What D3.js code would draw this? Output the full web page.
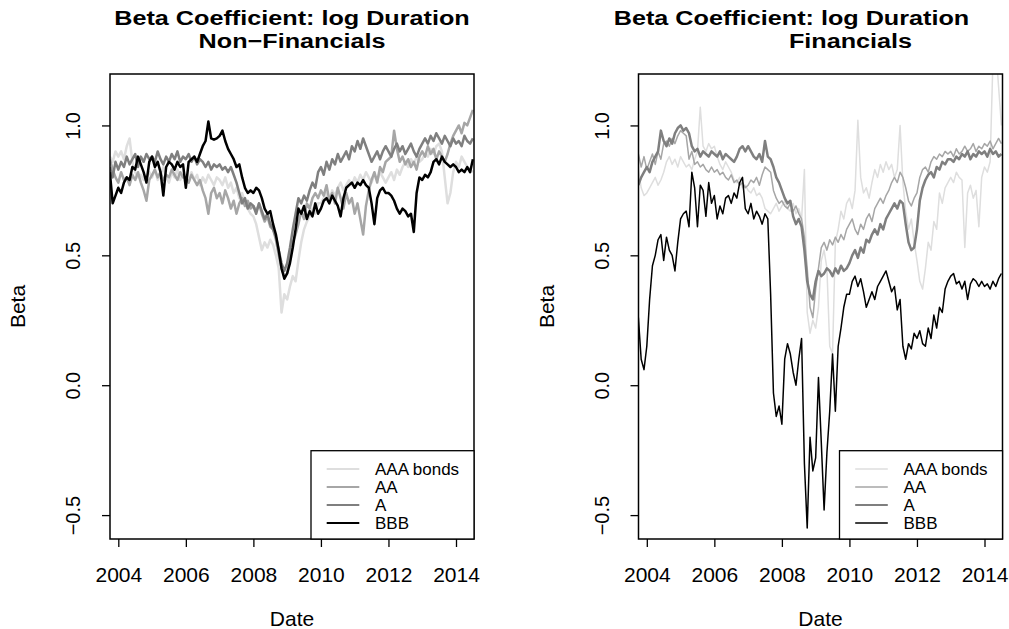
<!DOCTYPE html>
<html>
<head>
<meta charset="utf-8">
<script src="https://cdn.jsdelivr.net/npm/d3@7"></script>
<style>
  body { margin: 0; background: #fff; }
  text { font-family: "Liberation Sans", Arial, sans-serif; fill: #000; }
</style>
</head>
<body>
<script>
let width = 1009;
let height = 629;

// monthly values, first one is Oct 2003
let startYear = 2003.75;
let seriesNames = ["AAA bonds", "AA", "A", "BBB"];
let seriesColors = ["#dedede", "#a6a6a6", "#7f7f7f", "#000000"];
let xTicks = [2004, 2006, 2008, 2010, 2012, 2014];
let yTicks = [-0.5, 0, 0.5, 1.0];
let titleLine1 = "Beta Coefficient: log Duration";

// Non-Financials
let nfAAA = [0.88,0.86,0.90,
  0.88,0.90,0.87,0.92,0.95,0.86,0.82,0.80,0.81,0.79,0.80,0.82,
  0.80,0.83,0.79,0.81,0.84,0.80,0.78,0.82,0.80,0.83,0.79,0.81,
  0.80,0.78,0.82,0.79,0.81,0.77,0.80,0.78,0.81,0.79,0.77,0.80,
  0.79,0.77,0.80,0.76,0.78,0.74,0.76,0.72,0.74,0.70,0.68,0.66,
  0.65,0.62,0.57,0.52,0.55,0.53,0.56,0.54,0.50,0.45,0.28,0.35,
  0.33,0.38,0.42,0.40,0.48,0.55,0.60,0.63,0.65,0.68,0.66,0.70,
  0.70,0.72,0.74,0.71,0.75,0.73,0.76,0.78,0.75,0.77,0.79,0.77,
  0.80,0.78,0.81,0.79,0.82,0.80,0.78,0.81,0.79,0.82,0.80,0.78,
  0.80,0.82,0.79,0.83,0.81,0.84,0.86,0.84,0.87,0.85,0.88,0.86,
  0.87,0.89,0.88,0.91,0.89,0.92,0.93,0.90,0.80,0.70,0.74,0.82,
  0.86,0.84,0.88,0.86,0.84,0.83,0.82];
let nfAA = [0.87,0.83,0.80,
  0.78,0.82,0.79,0.80,0.77,0.81,0.79,0.82,0.78,0.75,0.71,0.79,
  0.81,0.83,0.80,0.82,0.79,0.81,0.80,0.83,0.81,0.79,0.82,0.80,
  0.80,0.78,0.81,0.79,0.77,0.79,0.75,0.72,0.66,0.74,0.76,0.72,
  0.74,0.70,0.75,0.72,0.68,0.71,0.66,0.70,0.72,0.69,0.71,0.68,
  0.69,0.67,0.70,0.66,0.63,0.65,0.61,0.60,0.56,0.50,0.45,0.42,
  0.43,0.50,0.55,0.58,0.62,0.67,0.64,0.70,0.68,0.72,0.74,0.72,
  0.75,0.73,0.77,0.71,0.74,0.70,0.76,0.72,0.68,0.74,0.70,0.72,
  0.66,0.70,0.64,0.58,0.69,0.75,0.79,0.82,0.78,0.84,0.82,0.86,
  0.87,0.88,0.98,0.91,0.86,0.88,0.85,0.87,0.84,0.86,0.83,0.88,
  0.90,0.88,0.92,0.89,0.91,0.87,0.90,0.88,0.86,0.89,0.93,0.96,
  0.98,1.00,0.97,1.01,1.00,1.03,1.06];
let nfA = [0.84,0.80,0.86,
  0.83,0.86,0.84,0.88,0.85,0.87,0.89,0.84,0.88,0.86,0.89,0.87,
  0.88,0.86,0.90,0.87,0.85,0.88,0.86,0.89,0.87,0.90,0.86,0.88,
  0.87,0.89,0.86,0.88,0.85,0.87,0.86,0.84,0.86,0.83,0.85,0.84,
  0.85,0.83,0.84,0.82,0.84,0.81,0.78,0.74,0.70,0.72,0.68,0.70,
  0.69,0.66,0.70,0.67,0.64,0.66,0.62,0.60,0.57,0.52,0.47,0.44,
  0.47,0.53,0.60,0.66,0.72,0.70,0.73,0.71,0.75,0.78,0.76,0.82,
  0.84,0.81,0.86,0.83,0.87,0.85,0.89,0.86,0.88,0.90,0.87,0.92,
  0.90,0.94,0.91,0.95,0.92,0.89,0.86,0.88,0.90,0.87,0.90,0.92,
  0.90,0.88,0.91,0.93,0.90,0.92,0.89,0.91,0.93,0.90,0.88,0.91,
  0.93,0.95,0.93,0.96,0.94,0.97,0.95,0.93,0.96,0.94,0.92,0.95,
  0.93,0.94,0.92,0.96,0.94,0.93,0.95];
let nfBBB = [0.82,0.70,0.73,
  0.76,0.74,0.78,0.80,0.79,0.84,0.83,0.88,0.85,0.82,0.78,0.86,
  0.88,0.84,0.86,0.82,0.73,0.84,0.86,0.85,0.83,0.86,0.84,0.85,
  0.76,0.86,0.87,0.88,0.86,0.89,0.92,0.94,1.015,0.95,0.945,0.95,
  0.96,0.98,0.94,0.91,0.89,0.87,0.84,0.85,0.80,0.76,0.74,0.75,
  0.74,0.76,0.75,0.72,0.68,0.66,0.67,0.62,0.58,0.52,0.45,0.41,
  0.43,0.47,0.53,0.60,0.68,0.66,0.69,0.64,0.67,0.65,0.70,0.66,
  0.68,0.71,0.72,0.70,0.73,0.71,0.69,0.65,0.72,0.76,0.77,0.78,
  0.76,0.78,0.77,0.79,0.77,0.76,0.70,0.62,0.72,0.75,0.76,0.74,
  0.74,0.73,0.71,0.68,0.66,0.68,0.67,0.65,0.66,0.59,0.74,0.80,
  0.79,0.81,0.80,0.82,0.86,0.87,0.85,0.88,0.86,0.85,0.84,0.85,
  0.84,0.82,0.83,0.82,0.84,0.82,0.87];

// Financials
let fAAA = [0.83,0.76,0.73,
  0.74,0.76,0.78,0.80,0.77,0.79,0.82,0.86,0.88,0.85,0.87,0.84,
  0.88,0.86,0.84,0.85,0.83,0.87,0.90,1.07,0.92,0.90,0.93,0.91,
  0.92,0.88,0.85,0.83,0.86,0.84,0.82,0.79,0.78,0.80,0.76,0.77,
  0.75,0.74,0.76,0.73,0.74,0.72,0.68,0.67,0.66,0.68,0.70,0.67,
  0.69,0.71,0.68,0.67,0.70,0.66,0.68,0.64,0.83,0.28,0.20,0.25,
  0.22,0.30,0.48,0.52,0.45,0.15,0.12,0.55,0.60,0.67,0.64,0.70,
  0.72,0.68,0.75,1.02,0.80,0.74,0.76,0.72,0.78,0.83,0.80,0.85,
  0.82,0.86,0.83,0.85,0.80,0.83,1.00,0.78,0.67,0.60,0.64,0.55,
  0.48,0.40,0.37,0.45,0.55,0.52,0.63,0.60,0.74,0.70,0.76,0.78,
  0.80,0.78,0.82,0.80,0.79,0.53,0.74,0.77,0.72,0.75,0.61,0.80,
  0.84,0.82,0.86,1.25,1.30,1.15,1.00];
let fAA = [0.89,0.84,0.88,
  0.83,0.86,0.89,0.85,0.90,0.87,0.93,0.94,0.92,0.95,0.93,0.96,
  0.98,0.97,0.96,0.87,0.90,0.85,0.86,0.84,0.85,0.83,0.82,0.84,
  0.82,0.83,0.81,0.82,0.80,0.79,0.81,0.78,0.79,0.77,0.78,0.76,
  0.77,0.79,0.78,0.80,0.77,0.81,0.84,0.83,0.82,0.75,0.72,0.70,
  0.71,0.69,0.68,0.70,0.67,0.69,0.66,0.64,0.57,0.45,0.30,0.26,
  0.37,0.45,0.53,0.55,0.52,0.56,0.54,0.57,0.55,0.58,0.56,0.60,
  0.62,0.64,0.60,0.58,0.62,0.60,0.64,0.66,0.63,0.68,0.70,0.72,
  0.70,0.73,0.75,0.78,0.80,0.78,0.82,0.80,0.76,0.71,0.69,0.72,
  0.74,0.80,0.83,0.84,0.82,0.86,0.88,0.87,0.89,0.88,0.90,0.89,
  0.90,0.88,0.91,0.89,0.90,0.92,0.90,0.91,0.93,0.90,0.92,0.91,
  0.93,0.92,0.94,0.91,0.93,0.95,0.93];
let fA = [0.77,0.80,0.82,
  0.84,0.82,0.86,0.88,0.90,0.98,0.94,0.92,0.95,0.93,0.97,0.99,
  1.00,0.98,0.99,0.97,0.92,0.90,0.91,0.88,0.90,0.89,0.88,0.90,
  0.89,0.88,0.90,0.87,0.89,0.88,0.87,0.86,0.88,0.91,0.92,0.90,
  0.92,0.90,0.88,0.87,0.89,0.86,0.94,0.88,0.87,0.84,0.80,0.78,
  0.75,0.72,0.70,0.71,0.65,0.62,0.64,0.61,0.52,0.40,0.35,0.33,
  0.40,0.44,0.42,0.43,0.45,0.44,0.42,0.45,0.43,0.46,0.44,0.45,
  0.47,0.50,0.52,0.49,0.53,0.51,0.56,0.55,0.58,0.60,0.58,0.62,
  0.60,0.64,0.66,0.68,0.70,0.68,0.71,0.70,0.62,0.55,0.52,0.53,
  0.60,0.71,0.76,0.79,0.81,0.82,0.80,0.84,0.83,0.86,0.85,0.87,
  0.87,0.86,0.88,0.87,0.89,0.88,0.90,0.87,0.89,0.88,0.90,0.89,
  0.90,0.88,0.91,0.89,0.90,0.88,0.89];
let fBBB = [0.26,0.10,0.06,
  0.15,0.33,0.46,0.50,0.56,0.58,0.48,0.57,0.52,0.50,0.44,0.55,
  0.64,0.66,0.67,0.61,0.82,0.76,0.61,0.77,0.75,0.65,0.78,0.70,
  0.73,0.64,0.69,0.66,0.72,0.73,0.70,0.74,0.72,0.78,0.80,0.68,
  0.66,0.70,0.64,0.67,0.65,0.62,0.66,0.64,0.35,-0.03,-0.12,-0.08,
  -0.15,0.10,0.16,0.12,0.05,0.00,0.10,0.18,-0.30,-0.55,-0.20,-0.33,
  -0.28,0.03,-0.22,-0.48,-0.26,-0.10,0.12,-0.10,0.15,0.22,0.30,0.35,
  0.35,0.40,0.42,0.38,0.41,0.36,0.30,0.33,0.36,0.33,0.38,0.40,
  0.42,0.44,0.40,0.36,0.38,0.29,0.33,0.15,0.10,0.16,0.14,0.20,
  0.18,0.21,0.16,0.15,0.22,0.18,0.27,0.22,0.30,0.28,0.37,0.40,
  0.42,0.43,0.39,0.40,0.37,0.40,0.33,0.39,0.41,0.40,0.38,0.40,
  0.38,0.39,0.37,0.40,0.38,0.41,0.43];

// title offsets (line 1, line 2) from the plot centre
let panels = [
  { left: 110, title2: "Non\u2212Financials", t1dx: 0, t2dx: 0, data: [nfAAA, nfAA, nfA, nfBBB], lw: [2.5, 2.5, 2.5, 2.5] },
  { left: 638.5, title2: "Financials", t1dx: -29, t2dx: 30, data: [fAAA, fAA, fA, fBBB], lw: [1.5, 1.5, 2.5, 1.5] }
];

let plotW = 364;
let plotTop = 74;
let plotBottom = 539;

let svg = d3.select("body").append("svg")
  .attr("width", width)
  .attr("height", height);

panels.forEach((p, pi) => {
  let x = d3.scaleLinear().domain([2003.754, 2014.533]).range([p.left, p.left + plotW]);
  let y = d3.scaleLinear().domain([-0.592, 1.198]).range([plotBottom, plotTop]);
  let cx = p.left + plotW / 2;

  let clipId = "clip" + pi;
  svg.append("clipPath").attr("id", clipId)
    .append("rect")
    .attr("x", p.left).attr("y", plotTop)
    .attr("width", plotW).attr("height", plotBottom - plotTop);

  // series lines
  let line = d3.line()
    .x((d, i) => x(startYear + i / 12))
    .y(d => y(d));

  let g = svg.append("g").attr("clip-path", `url(#${clipId})`);
  p.data.forEach((vals, si) => {
    g.append("path")
      .datum(vals)
      .attr("fill", "none")
      .attr("stroke", seriesColors[si])
      .attr("stroke-width", p.lw[si])
      .attr("stroke-linejoin", "round")
      .attr("d", line);
  });

  // axes
  let xAxis = d3.axisBottom(x).tickValues(xTicks).tickFormat(d3.format("d")).tickSize(8).tickSizeOuter(0);
  let gx = svg.append("g").attr("transform", `translate(0,${plotBottom})`).call(xAxis);
  gx.select(".domain").remove();
  gx.selectAll("line").attr("stroke", "#000").attr("stroke-width", 1.3);
  gx.selectAll("text").attr("y", 0).attr("dy", null)
    .attr("transform", "translate(0,43)")
    .style("font-size", "21px");
  gx.attr("font-family", null).attr("font-size", null);

  let yAxis = d3.axisLeft(y).tickValues(yTicks).tickFormat(d3.format(".1f")).tickSize(8).tickSizeOuter(0);
  let gy = svg.append("g").attr("transform", `translate(${p.left},0)`).call(yAxis);
  gy.select(".domain").remove();
  gy.selectAll("line").attr("stroke", "#000").attr("stroke-width", 1.3);
  gy.selectAll("text")
    .attr("x", null).attr("dy", null)
    .attr("text-anchor", "middle")
    .attr("transform", "translate(-30,0) rotate(-90)")
    .style("font-size", "20px");
  gy.attr("font-family", null).attr("font-size", null);

  // box
  svg.append("rect")
    .attr("x", p.left).attr("y", plotTop)
    .attr("width", plotW).attr("height", plotBottom - plotTop)
    .attr("fill", "none").attr("stroke", "#000").attr("stroke-width", 1.5);

  // titles
  let t1 = svg.append("g").attr("transform", `translate(${cx + p.t1dx},25) scale(1.2,1)`);
  t1.append("text").attr("text-anchor", "middle").style("font-size", "21px").style("font-weight", "bold").text(titleLine1);
  let t2 = svg.append("g").attr("transform", `translate(${cx + p.t2dx},48) scale(1.2,1)`);
  t2.append("text").attr("text-anchor", "middle").style("font-size", "21px").style("font-weight", "bold").text(p.title2);

  // axis titles
  svg.append("text").attr("x", cx).attr("y", 626).attr("text-anchor", "middle")
    .style("font-size", "21px").text("Date");
  svg.append("text").attr("transform", `translate(${p.left - 85},${(plotTop + plotBottom) / 2}) rotate(-90)`)
    .attr("text-anchor", "middle").style("font-size", "21px").text("Beta");

  // legend
  let lg = svg.append("g").attr("transform", `translate(${p.left + 201},450.7)`);
  lg.append("rect").attr("width", plotW - 201).attr("height", plotBottom - 450.7)
    .attr("fill", "#fff").attr("stroke", "#000").attr("stroke-width", 1.3);
  seriesNames.forEach((name, si) => {
    let ry = 18.3 + si * 18;
    lg.append("line").attr("x1", 15.7).attr("x2", 48.3).attr("y1", ry).attr("y2", ry)
      .attr("stroke", seriesColors[si]).attr("stroke-width", Math.min(p.lw[si], 2));
    lg.append("text").attr("x", 64).attr("y", ry + 6).style("font-size", "17px").text(name);
  });
});
</script>
</body>
</html>
